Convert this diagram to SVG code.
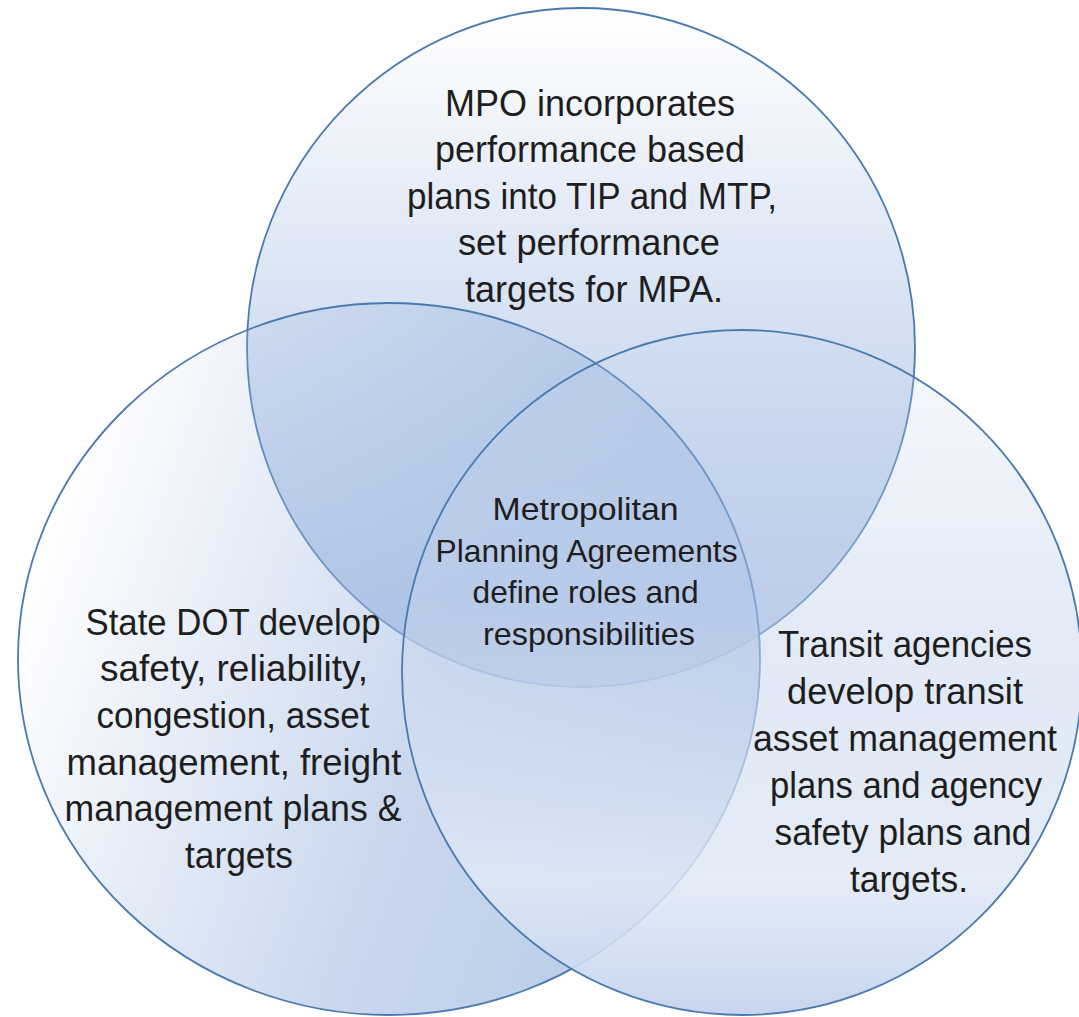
<svg xmlns="http://www.w3.org/2000/svg" width="1079" height="1017" viewBox="0 0 1079 1017">
  <style>
    .circ { stroke: #4a7ab0; stroke-width: 1.8; }
    .lbl { font-family: "Liberation Sans", Arial, sans-serif; font-size: 36px; fill: #1e1e1e; text-anchor: middle; }
    .mid { font-size: 32px; }
  </style>
  <defs>
    <linearGradient id="gTop" x1="0.5" y1="0" x2="0.5" y2="1">
      <stop offset="0" stop-color="#ffffff"/>
      <stop offset="0.45" stop-color="#d6e1f2"/>
      <stop offset="1" stop-color="#aec3e6"/>
    </linearGradient>
    <linearGradient id="gLeft" x1="0" y1="0.4" x2="1" y2="0.75">
      <stop offset="0" stop-color="#a9c0e4" stop-opacity="0"/>
      <stop offset="0.55" stop-color="#a9c0e4" stop-opacity="0.62"/>
      <stop offset="1" stop-color="#a9c0e4" stop-opacity="0.85"/>
    </linearGradient>
    <linearGradient id="gRight" x1="0.5" y1="0" x2="0.5" y2="1">
      <stop offset="0" stop-color="#c8d6ee" stop-opacity="0.15"/>
      <stop offset="0.4" stop-color="#c4d3ed" stop-opacity="0.45"/>
      <stop offset="0.8" stop-color="#e0e9f5" stop-opacity="0.85"/>
      <stop offset="1" stop-color="#c4d3ed" stop-opacity="0.95"/>
    </linearGradient>
  </defs>
  <rect width="1079" height="1017" fill="#ffffff"/>

  <g id="node-mpo">
    <ellipse class="circ" cx="581" cy="347.5" rx="334" ry="339.5" fill="url(#gTop)"/>
    <text class="lbl">
      <tspan x="595" y="116" textLength="290" lengthAdjust="spacingAndGlyphs">MPO incorporates</tspan>
      <tspan x="595" y="162" textLength="310" lengthAdjust="spacingAndGlyphs">performance based</tspan>
      <tspan x="597" y="209" textLength="370" lengthAdjust="spacingAndGlyphs">plans into TIP and MTP,</tspan>
      <tspan x="594" y="255" textLength="262" lengthAdjust="spacingAndGlyphs">set performance</tspan>
      <tspan x="594" y="302" textLength="258" lengthAdjust="spacingAndGlyphs">targets for MPA.</tspan>
    </text>
  </g>

  <g id="node-state-dot">
    <ellipse class="circ" cx="389" cy="659" rx="371" ry="356" fill="url(#gLeft)"/>
    <text class="lbl">
      <tspan x="238" y="635" textLength="295" lengthAdjust="spacingAndGlyphs">State DOT develop</tspan>
      <tspan x="239" y="681" textLength="268" lengthAdjust="spacingAndGlyphs">safety, reliability,</tspan>
      <tspan x="238" y="728" textLength="273" lengthAdjust="spacingAndGlyphs">congestion, asset</tspan>
      <tspan x="239" y="775" textLength="335" lengthAdjust="spacingAndGlyphs">management, freight</tspan>
      <tspan x="238" y="821" textLength="337" lengthAdjust="spacingAndGlyphs">management plans &amp;</tspan>
      <tspan x="239" y="868" textLength="108" lengthAdjust="spacingAndGlyphs">targets</tspan>
    </text>
  </g>

  <g id="node-transit">
    <ellipse class="circ" cx="742" cy="672.5" rx="340" ry="342.5" fill="url(#gRight)"/>
    <text class="lbl">
      <tspan x="910" y="657" textLength="254" lengthAdjust="spacingAndGlyphs">Transit agencies</tspan>
      <tspan x="910" y="704" textLength="236" lengthAdjust="spacingAndGlyphs">develop transit</tspan>
      <tspan x="910" y="751" textLength="304" lengthAdjust="spacingAndGlyphs">asset management</tspan>
      <tspan x="911" y="798" textLength="272" lengthAdjust="spacingAndGlyphs">plans and agency</tspan>
      <tspan x="908" y="845" textLength="257" lengthAdjust="spacingAndGlyphs">safety plans and</tspan>
      <tspan x="909" y="892" textLength="118" lengthAdjust="spacingAndGlyphs">targets.</tspan>
    </text>
  </g>

  <g id="node-mpa">
    <text class="lbl mid">
      <tspan x="590" y="520" textLength="186" lengthAdjust="spacingAndGlyphs">Metropolitan</tspan>
      <tspan x="591" y="562" textLength="302" lengthAdjust="spacingAndGlyphs">Planning Agreements</tspan>
      <tspan x="590" y="603" textLength="226" lengthAdjust="spacingAndGlyphs">define roles and</tspan>
      <tspan x="589" y="645" textLength="212" lengthAdjust="spacingAndGlyphs">responsibilities</tspan>
    </text>
  </g>

  <g id="connectors"></g>
</svg>
